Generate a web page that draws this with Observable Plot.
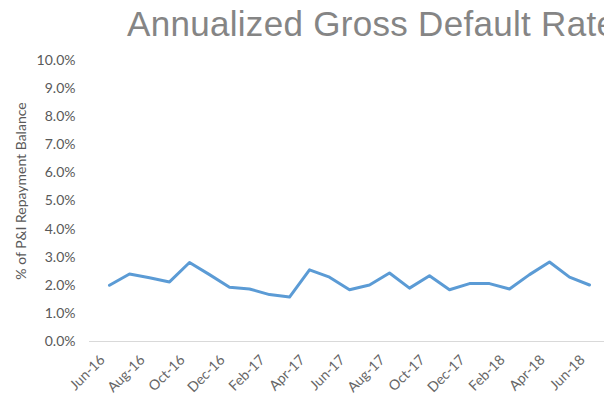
<!DOCTYPE html>
<html>
<head>
<meta charset="utf-8">
<script src="https://cdn.jsdelivr.net/npm/d3@7"></script>
<script src="https://cdn.jsdelivr.net/npm/@observablehq/plot@0.6"></script>
<style>
  html, body { margin: 0; padding: 0; background: #fff; overflow: hidden; }
  #wrap { position: relative; width: 604px; height: 410px; overflow: hidden; }
  #title { position: absolute; left: 127px; top: 6px; font-family: "Liberation Sans", Arial, sans-serif; font-size: 35px; line-height: 35px; letter-spacing: 0.3px; color: #858585; white-space: nowrap; }
  #ylabel { position: absolute; left: 20px; top: 191px; transform: translate(-50%, -50%) rotate(-90deg); font-family: Lato, sans-serif; font-size: 14px; color: #595959; white-space: nowrap; }
  #chart { position: absolute; left: 0; top: 0; }
</style>
</head>
<body>
<div id="wrap">
  <div id="chart"></div>
  <div id="title">Annualized Gross Default Rate</div>
  <div id="ylabel">% of P&amp;I Repayment Balance</div>
</div>
<script>
const months = ["Jun-16","Jul-16","Aug-16","Sep-16","Oct-16","Nov-16","Dec-16","Jan-17","Feb-17","Mar-17","Apr-17","May-17","Jun-17","Jul-17","Aug-17","Sep-17","Oct-17","Nov-17","Dec-17","Jan-18","Feb-18","Mar-18","Apr-18","May-18","Jun-18"];
const rates = [2.0,2.4,2.27,2.12,2.81,2.38,1.93,1.87,1.67,1.58,2.55,2.29,1.84,2.01,2.44,1.9,2.34,1.84,2.06,2.06,1.87,2.38,2.83,2.29,2.01];
const yTicks = [0,1,2,3,4,5,6,7,8,9,10];
const xTickLabels = months.filter((d, i) => i % 2 === 0);

const data = months.map((m, i) => ({month: m, rate: rates[i]}));

const chart = Plot.plot({
  width: 604,
  height: 410,
  marginTop: 60,
  marginBottom: 69,
  marginLeft: 89,
  marginRight: -4,
  x: {type: "point", domain: months, padding: 0.5},
  y: {domain: [0, 10]},
  style: {fontFamily: "Lato, sans-serif", fontSize: "14px", color: "#595959", background: "white"},
  marks: [
    Plot.ruleY([0], {stroke: "#d9d9d9", strokeWidth: 1}),
    Plot.axisY({ticks: yTicks, tickFormat: d => d.toFixed(1) + "%", tickSize: 0, tickPadding: 14, label: null}),
    Plot.axisX({ticks: xTickLabels, tickRotate: -45, tickSize: 0, tickPadding: 14, dx: -7, dy: 2, label: null, fill: "#666"}),
    Plot.line(data, {x: "month", y: "rate", stroke: "#5b9bd5", strokeWidth: 3, strokeLinejoin: "round"})
  ]
});
document.getElementById("chart").appendChild(chart);
</script>
</body>
</html>
